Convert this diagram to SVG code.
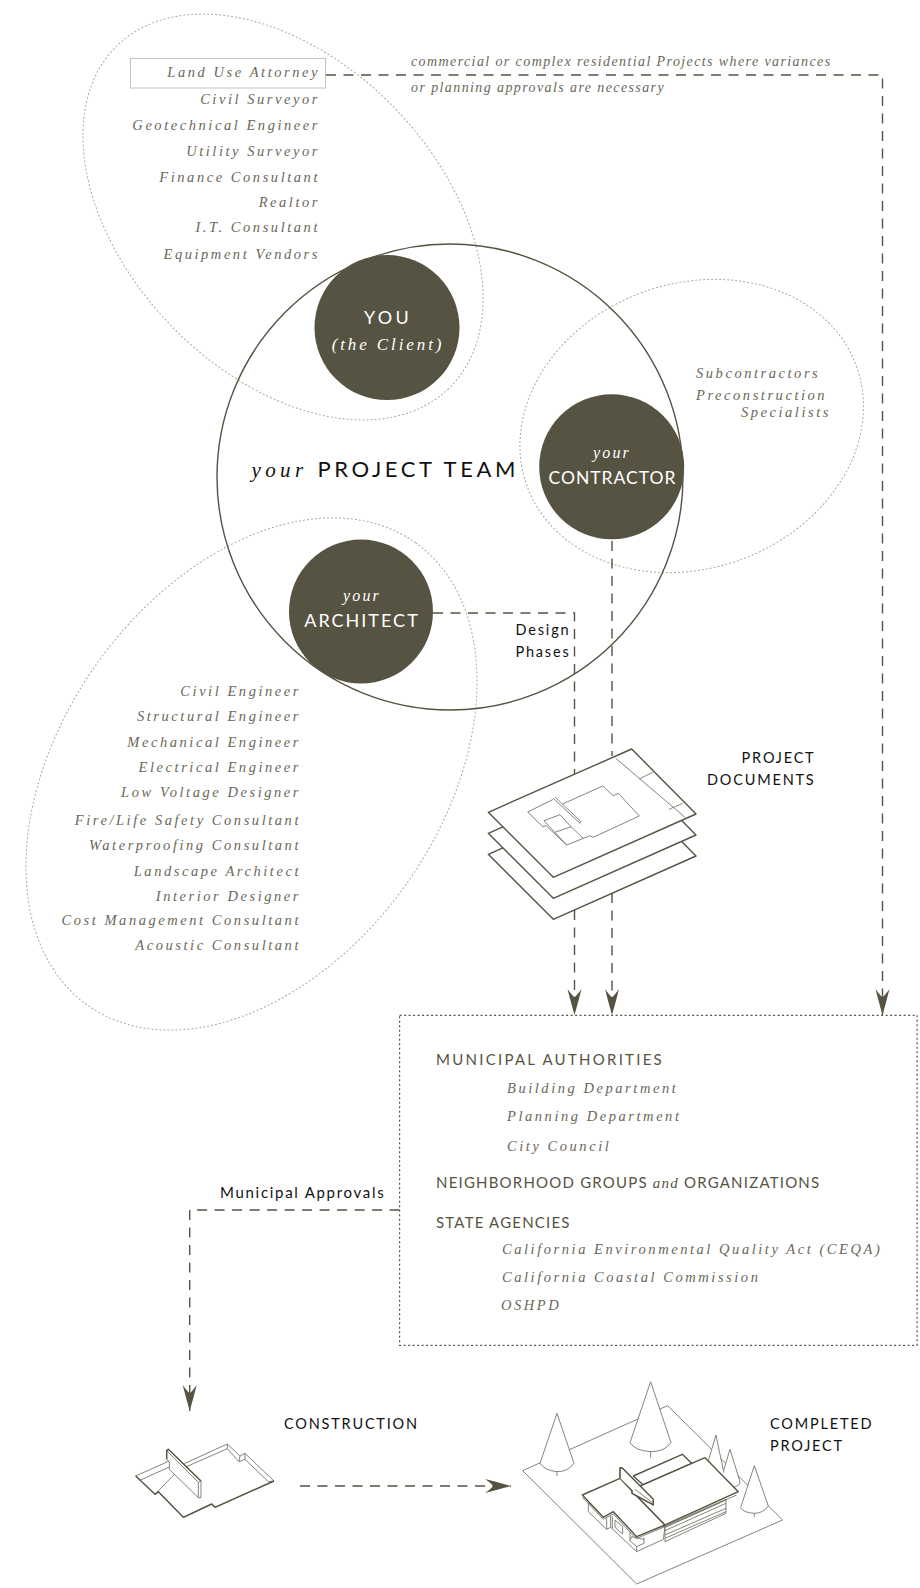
<svg xmlns="http://www.w3.org/2000/svg" width="920" height="1588" viewBox="0 0 920 1588">
<defs>
<marker id="ah" markerUnits="userSpaceOnUse" markerWidth="28" markerHeight="16" refX="26" refY="8" orient="auto" viewBox="0 0 28 16"><path d="M0,1 Q12,4 26,8 Q12,12 0,15 Q7,10 8,8 Q7,6 0,1Z" fill="#575342"/></marker>
</defs>
<style>
.bg{fill:#fff}
.dot{fill:none;stroke:#aaa9a1;stroke-width:1;stroke-dasharray:2 2}
.disc{fill:#575342}
.i{font-family:"Liberation Serif",serif;font-style:italic;font-size:14.5px;letter-spacing:2.55px;fill:#6a6859}
.e{text-anchor:end}
.s{font-family:Lato,"Liberation Sans",sans-serif;font-size:14.5px;letter-spacing:1.8px;fill:#111}
.o{fill:#575342;font-size:15px}
.w{fill:#fff;text-anchor:middle}
.c{fill:none;stroke:#575342;stroke-width:1.4;stroke-dasharray:10 7.5}
.ln{fill:#fff;stroke:#77756a;stroke-width:.9;stroke-linejoin:round;vector-effect:non-scaling-stroke}
.th{fill:#fff;stroke:#575342;stroke-width:1.4;stroke-linejoin:round;vector-effect:non-scaling-stroke}
.nf{fill:none}
</style>
<rect class="bg" width="920" height="1588"/>
<g id="ellipses">
<ellipse class="dot" cx="283" cy="217" rx="238.500" ry="156" transform="rotate(46 283 217)"/>
<ellipse class="dot" cx="251.500" cy="774" rx="283.500" ry="190" transform="rotate(-54.700 251.500 774)"/>
<ellipse class="dot" cx="691.700" cy="426" rx="175.300" ry="142.400" transform="rotate(-20 691.700 426)"/>
</g>
<g id="project-team">
<circle cx="450" cy="477" r="233" fill="none" stroke="#575342" stroke-width="1.400"/>
<text class="i" x="251.500" y="477" style="font-size:21px;letter-spacing:4.400px;fill:#111">your</text>
<text class="s" x="317.500" y="477" style="font-size:22px;letter-spacing:3.600px">PROJECT TEAM</text>
</g>
<g id="connectors">
<path class="c" d="M326,75H882.500V1015" style="marker-end:url(#ah)"/>
<path class="c" d="M612,541V756"/>
<path class="c" d="M612,893V1015" style="marker-end:url(#ah)"/>
<path class="c" d="M433,613H574.500V774"/>
<path class="c" d="M574.500,910V1015" style="marker-end:url(#ah)"/>
<path class="c" d="M399.600,1210H189.700V1411" style="marker-end:url(#ah)"/>
<path class="c" d="M300,1486H511" style="marker-end:url(#ah)"/>
</g>
<g id="you">
<circle class="disc" cx="387" cy="327.600" r="72.500"/>
<text class="s w" x="388" y="324" style="font-size:18px;letter-spacing:3.200px">YOU</text>
<text class="i w" x="388" y="350" style="font-size:17px;letter-spacing:2.900px;fill:#fff">(the Client)</text>
</g>
<g id="contractor">
<circle class="disc" cx="611.700" cy="466.800" r="72.500"/>
<text class="i w" x="612" y="458" style="font-size:16px;letter-spacing:2.200px;fill:#fff">your</text>
<text class="s w" x="612.500" y="483.500" style="font-size:17.500px;letter-spacing:1px">CONTRACTOR</text>
</g>
<g id="architect">
<circle class="disc" cx="361" cy="611.600" r="72"/>
<text class="i w" x="362" y="601" style="font-size:16px;letter-spacing:2.200px;fill:#fff">your</text>
<text class="s w" x="362" y="627" style="font-size:18px;letter-spacing:2px">ARCHITECT</text>
</g>
<g id="client-consultants">
<rect x="130.500" y="58.500" width="195" height="29.500" fill="none" stroke="#c4c3bd" stroke-width="1"/>
<text class="i e" x="320" y="77">Land Use Attorney</text>
<text class="i e" x="320" y="104">Civil Surveyor</text>
<text class="i e" x="320" y="130">Geotechnical Engineer</text>
<text class="i e" x="320" y="156">Utility Surveyor</text>
<text class="i e" x="320" y="181.500">Finance Consultant</text>
<text class="i e" x="320" y="207">Realtor</text>
<text class="i e" x="320" y="232">I.T. Consultant</text>
<text class="i e" x="320" y="259">Equipment Vendors</text>
</g>
<g id="attorney-note">
<text class="i" x="411" y="66" style="font-size:14px;letter-spacing:1.400px">commercial or complex residential Projects where variances</text>
<text class="i" x="411" y="92" style="font-size:14px;letter-spacing:1.400px">or planning approvals are necessary</text>
</g>
<g id="contractor-consultants">
<text class="i" x="696" y="378">Subcontractors</text>
<text class="i" x="696" y="399.500">Preconstruction</text>
<text class="i e" x="831" y="417">Specialists</text>
</g>
<g id="architect-consultants">
<text class="i e" x="301" y="696">Civil Engineer</text>
<text class="i e" x="301" y="721">Structural Engineer</text>
<text class="i e" x="301" y="746.500">Mechanical Engineer</text>
<text class="i e" x="301" y="772">Electrical Engineer</text>
<text class="i e" x="301" y="797">Low Voltage Designer</text>
<text class="i e" x="301" y="824.500">Fire/Life Safety Consultant</text>
<text class="i e" x="301" y="850">Waterproofing Consultant</text>
<text class="i e" x="301" y="875.500">Landscape Architect</text>
<text class="i e" x="301" y="900.500">Interior Designer</text>
<text class="i e" x="301" y="925">Cost Management Consultant</text>
<text class="i e" x="301" y="949.500">Acoustic Consultant</text>
</g>
<g id="design-phases">
<text class="s" x="543" y="635" text-anchor="middle">Design</text>
<text class="s" x="543" y="657" text-anchor="middle">Phases</text>
</g>
<g id="project-documents">
<path class="th" d="M488.300,854.300L631.700,791L696,856L553.300,919.300Z"/>
<path class="th" d="M488.300,833.300L631.700,770L696,835L553.300,898.300Z"/>
<path class="th" d="M488.300,812.300L631.700,749L696,814L553.300,877.300Z"/>
<path class="ln nf" d="M553.300,799.300L527.700,812L542.700,826.700L546,825.700L566.700,845L590,835.700L593.300,837.300L639.300,816L618.300,793.300L613.300,795.700L602.700,786L562.700,804"/>
<path class="ln nf" d="M553.300,798.300L580,823.300M555.300,797.300L580.700,821.300L580,823.300M544,820.700L560,814.700L571,826.700L555,832.300M571,826.700L583.300,838.300M544,820.700L566.700,845M615.700,758.300L685,817.300M639,779L652.700,772.300M669,809.300L682.700,803.300"/>
<text class="s e" x="815.500" y="763">PROJECT</text>
<text class="s e" x="815.500" y="785">DOCUMENTS</text>
</g>
<g id="authorities">
<rect x="399.600" y="1015.300" width="517.500" height="330" fill="none" stroke="#575342" stroke-width="1.200" stroke-dasharray="2 2.500"/>
<text class="s o" x="436" y="1065" style="letter-spacing:2.260px">MUNICIPAL AUTHORITIES</text>
<text class="i" x="507" y="1092.500">Building Department</text>
<text class="i" x="507" y="1121">Planning Department</text>
<text class="i" x="507" y="1151">City Council</text>
<text class="s o" x="436" y="1188" style="letter-spacing:1.200px">NEIGHBORHOOD GROUPS <tspan style="font-family:'Liberation Serif',serif;font-style:italic;font-size:15px">and</tspan> ORGANIZATIONS</text>
<text class="s o" x="436" y="1228" style="letter-spacing:1.200px">STATE AGENCIES</text>
<text class="i" x="502" y="1254">California Environmental Quality Act (CEQA)</text>
<text class="i" x="502" y="1282">California Coastal Commission</text>
<text class="i" x="501" y="1309.500">OSHPD</text>
</g>
<g id="municipal-approvals">
<text class="s" x="220" y="1198" style="font-size:15px;letter-spacing:1.700px">Municipal Approvals</text>
</g>
<g id="construction">
<g transform="translate(130 1430) scale(.3333)">
<path class="ln" d="M17,138L118,93M165,100L292,42L330,78L345,70L432,153L255,232L245,222L160,262L85,185L75,193Z"/>
<path class="ln nf" d="M17,138L32,150L120,110M165,112L292,56L327,95L345,88L415,155L432,153M292,42V56M330,78L327,95M345,70V88"/>
<path class="th nf" d="M17,138L75,193L85,185L160,262L245,222L255,232L432,153"/>
<path class="ln" d="M110,62L115,58L213,153V203H205L118,118V95L110,88Z"/>
<path class="th nf" d="M110,88V62L115,58L213,153"/>
<path class="ln nf" d="M110,62L205,157V203M205,157L213,153"/>
</g>
<text class="s" x="284" y="1429">CONSTRUCTION</text>
</g>
<g id="completed-project">
<g transform="translate(500 1350) scale(.3333)">
<path class="ln" d="M68,362L503,167L848,510L410,702Z"/>
<path class="ln" d="M625,332L648,255L672,370"/>
<path class="ln" d="M670,365L690,298L720,395Q720,408 700,412"/>
<path class="ln" d="M763,347L805,468Q790,490 763,490Q730,488 722,473Z"/>
<path class="ln nf" d="M763,490V500"/>
<path class="ln" d="M171,190L222,340Q205,365 171,365Q135,362 120,340Z"/>
<path class="ln nf" d="M171,365V378"/>
<path class="ln" d="M452,95L513,278Q495,305 452,305Q405,302 390,278Z"/>
<path class="ln nf" d="M452,305V323"/>
<!-- house, walls -->
<path class="ln" d="M265,460V485L320,538L332,532L410,605L490,568L495,530L340,480Z"/>
<path class="ln nf" d="M320,505V538M332,495V532M337,500V536M345,510V532L368,552V530ZM390,545V572L410,590L432,580V562M390,572L395,560L432,568M410,590V605"/>
<path class="ln" d="M495,528V575L678,490V448Z"/>
<path class="ln nf" d="M495,542L678,460M495,555L678,475M495,565L678,485M495,532L678,450"/>
<!-- back roof -->
<path class="th" d="M400,378L547,313L575,340L430,405Z"/>
<!-- left roof -->
<path class="ln nf" d="M247,442L310,508L340,492L408,566L495,530"/>
<path class="th" d="M247,435L360,385L398,425L495,525L410,560L340,485L310,502Z"/>
<!-- right roof -->
<path class="ln nf" d="M495,532L710,435"/>
<path class="th" d="M420,408L615,323L715,425L495,525L398,425Z"/>
<!-- fin -->
<path class="ln" d="M360,353L367,354L460,448V465L396,430V420L360,385Z"/>
<path class="th nf" d="M360,385V353L367,354L460,448V465L396,430V420"/>
<path class="ln nf" d="M405,418L460,460"/>
</g>
<text class="s" x="770" y="1429">COMPLETED</text>
<text class="s" x="770" y="1451">PROJECT</text>
</g>
</svg>
